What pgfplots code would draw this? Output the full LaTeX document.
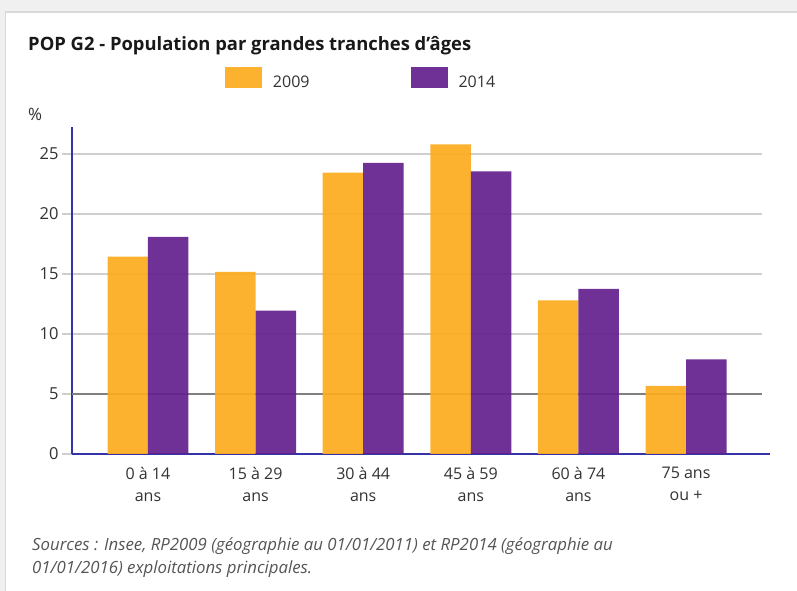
\documentclass[border=0pt]{standalone}
\usepackage{pgfplots}
\pgfplotsset{compat=1.18}
\usepackage{fontspec}
\setmainfont{Open Sans}
\definecolor{orangebar}{HTML}{FDAC1E}
\definecolor{purplebar}{HTML}{63208D}
\definecolor{axiscol}{HTML}{3434A8}
\definecolor{gridcol}{HTML}{CFCFCF}
\definecolor{labelcol}{HTML}{333333}
\definecolor{notecol}{HTML}{555555}
\begin{document}
\begin{tikzpicture}[x=1pt,y=1pt]
\useasboundingbox (0,0) rectangle (797,591);
\fill[black!6] (0,0) rectangle (797,591);
\filldraw[fill=white, draw=black!15, line width=1.5pt] (5.5,-5) rectangle (805,579);
\node[anchor=base west, inner sep=0pt, text=black!90, font=\fontsize{18.4}{22}\selectfont\bfseries] at (28,540.5) {POP G2 - Population par grandes tranches d'âges};
\node[anchor=west, inner sep=0pt, text=labelcol, font=\fontsize{17}{20}\selectfont] at (28,477) {\%};
\begin{axis}[
  at={(72pt,137pt)}, anchor=south west,
  scale only axis, width=690pt, height=327pt,
  xmin=-0.706, xmax=5.706, ymin=0, ymax=27.25,
  axis x line*=bottom, axis y line*=left,
  axis line style={draw=axiscol, line width=1.5pt, -},
  ytick={0,5,...,25},
  /pgf/number format/assume math mode=true,
  ymajorgrids, grid style={gridcol, line width=1.5pt},
  xtick={0,...,5},
  xticklabels={{0 à 14\\ans},{15 à 29\\ans},{30 à 44\\ans},{45 à 59\\ans},{60 à 74\\ans},{75 ans\\ou +}},
  xticklabel style={align=center, font=\fontsize{16}{22}\selectfont, text=labelcol},
  yticklabel style={font=\fontsize{16.5}{20}\selectfont, text=labelcol},
  xtick style={draw=none},
  ytick style={draw=gridcol, line width=1.5pt},
  tick align=outside, major tick length=10pt,
  ybar, bar width=0.376,
  clip=false,
  legend columns=2,
  legend style={draw=none, fill=none, inner sep=0pt, outer sep=0pt,
    at={(0.2217,1.1498)}, anchor=west,
    nodes={inner sep=0pt, outer sep=0pt, font=\fontsize{16}{20}\selectfont, text=labelcol},
    /tikz/every odd column/.append style={column sep=11pt},
    /tikz/every even column/.append style={column sep=101pt}},
  legend image code/.code={\fill[#1] (0pt,-5pt) rectangle (37pt,16pt);},
]
\draw[black!50, line width=1.5pt] (axis cs:-0.706,5) -- (axis cs:5.706,5);
\addplot[fill=orangebar, draw=none, fill opacity=0.92, bar shift=-0.188] coordinates {(0,16.44) (1,15.17) (2,23.44) (3,25.8) (4,12.8) (5,5.67)};
\addlegendentry{2009}
\addplot[fill=purplebar, draw=none, fill opacity=0.92, bar shift=0.188] coordinates {(0,18.1) (1,11.94) (2,24.25) (3,23.55) (4,13.75) (5,7.89)};
\addlegendentry{2014}
\draw[axiscol, line width=1.5pt] (axis cs:5.706,0) -- (axis cs:5.78,0);
\end{axis}
\node[anchor=base west, inner sep=0pt, text=notecol, align=left, font=\fontsize{16.8}{23}\selectfont\itshape] at (32,17) {Sources : Insee, RP2009 (géographie au 01/01/2011) et RP2014 (géographie au\\01/01/2016) exploitations principales.};
\end{tikzpicture}
\end{document}
